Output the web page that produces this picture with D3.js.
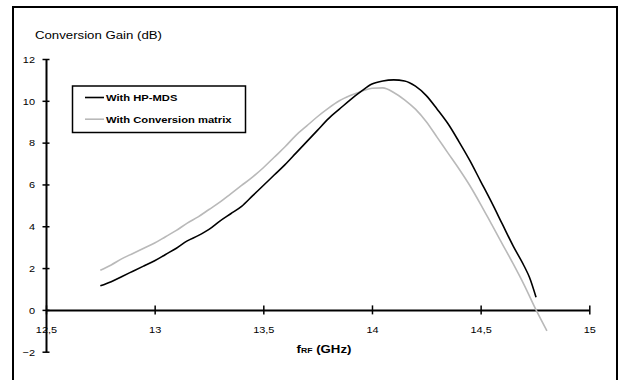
<!DOCTYPE html>
<html>
<head>
<meta charset="utf-8">
<script src="https://cdn.jsdelivr.net/npm/d3@7"></script>
<style>
  body { margin: 0; background: #fff; }
  svg text { font-family: "Liberation Sans", Arial, sans-serif; fill: #000; }
  .st { transform-box: fill-box; }
  .st-s { transform-origin: left center; }
  .st-e { transform-origin: right center; }
  .st-m { transform-origin: center center; }
</style>
</head>
<body>
<div id="chart-area"></div>
<script>
/*
*    conversion gain vs fRF
*/

// HP-MDS curve
var freqHP = [12.75, 12.8, 12.85, 12.9, 12.95, 13, 13.05, 13.1, 13.15, 13.2, 13.25, 13.3, 13.35, 13.4, 13.45,
    13.5, 13.55, 13.6, 13.65, 13.7, 13.75, 13.8, 13.85, 13.9, 13.95, 14, 14.05, 14.1, 14.15, 14.2,
    14.25, 14.3, 14.35, 14.4, 14.45, 14.5, 14.55, 14.6, 14.65, 14.7, 14.725, 14.755];
var gainHP = [1.15, 1.35, 1.6, 1.85, 2.1, 2.35, 2.65, 2.95, 3.3, 3.55, 3.85, 4.25, 4.6, 4.95, 5.45,
    5.95, 6.45, 6.95, 7.5, 8.05, 8.6, 9.15, 9.6, 10.05, 10.45, 10.8, 10.95, 11.0, 10.95, 10.7,
    10.25, 9.6, 8.9, 8.05, 7.15, 6.15, 5.15, 4.1, 3.05, 2.1, 1.55, 0.6];

// Conversion matrix curve
var freqCM = [12.75, 12.8, 12.85, 12.9, 12.95, 13, 13.05, 13.1, 13.15, 13.2, 13.25, 13.3, 13.35, 13.4, 13.45,
    13.5, 13.55, 13.6, 13.65, 13.7, 13.75, 13.8, 13.85, 13.9, 13.95, 14, 14.05, 14.1, 14.15, 14.2,
    14.25, 14.3, 14.35, 14.4, 14.45, 14.5, 14.55, 14.6, 14.65, 14.7, 14.755, 14.805];
var gainCM = [1.9, 2.15, 2.45, 2.7, 2.95, 3.2, 3.5, 3.8, 4.15, 4.45, 4.8, 5.15, 5.55, 5.95, 6.35,
    6.8, 7.3, 7.8, 8.35, 8.8, 9.25, 9.65, 10.0, 10.25, 10.45, 10.6, 10.62, 10.4, 10.05, 9.6,
    9.0, 8.25, 7.5, 6.75, 5.95, 5.05, 4.1, 3.15, 2.2, 1.2, 0.0, -1.0];

var xTicks = [12.5, 13, 13.5, 14, 14.5, 15];
var xTickLabels = ["12,5", "13", "13,5", "14", "14,5", "15"];
var yTicks = [-2, 0, 2, 4, 6, 8, 10, 12];

var seriesNames = ["With HP-MDS", "With Conversion matrix"];
var seriesColors = ["#000000", "#b9b9b9"];

var width = 621;
var height = 380;

var svg = d3.select("#chart-area").append("svg")
    .attr("width", width)
    .attr("height", height);

// outer frame (bottom edge runs off the picture)
svg.append("rect")
    .attr("x", 13)
    .attr("y", 7)
    .attr("width", 604)
    .attr("height", 420)
    .attr("fill", "none")
    .attr("stroke", "#000")
    .attr("stroke-width", 2);

var x = d3.scaleLinear()
    .domain([12.5, 15])
    .range([46, 589.3]);

var y = d3.scaleLinear()
    .domain([-2, 12])
    .range([351.7, 59]);

// x Axis
var xAxisCall = d3.axisBottom(x)
    .tickValues(xTicks)
    .tickSizeOuter(0)
    .tickFormat((d, i) => xTickLabels[i]);
var xAxis = svg.append("g")
    .attr("class", "x axis")
    .attr("transform", "translate(0, " + y(0) + ")")
    .call(xAxisCall);
xAxis.select(".domain").attr("stroke-width", 2);
xAxis.selectAll(".tick line")
    .attr("y1", -4.5)
    .attr("y2", 4.5)
    .attr("stroke-width", 1.5);
xAxis.selectAll(".tick text")
    .attr("y", 23)
    .attr("dy", 0)
    .attr("class", "st st-m")
    .style("transform", "scaleX(1.15)")
    .style("font-size", "9.5px");

// y Axis
var yAxisCall = d3.axisLeft(y)
    .tickValues(yTicks)
    .tickSizeOuter(0);
var yAxis = svg.append("g")
    .attr("class", "y axis")
    .attr("transform", "translate(" + x(12.5) + ", 0)")
    .call(yAxisCall);
yAxis.select(".domain").attr("stroke-width", 2);
yAxis.selectAll(".tick line")
    .attr("x1", -3.5)
    .attr("x2", 3.5)
    .attr("stroke-width", 1.5);
yAxis.selectAll(".tick text")
    .attr("x", -11)
    .attr("dy", "0.35em")
    .attr("class", "st st-e")
    .style("transform", "scaleX(1.15)")
    .style("font-size", "9.5px");
svg.selectAll(".axis").attr("font-family", null).attr("font-size", null);

// y Label
svg.append("text")
    .attr("x", 35)
    .attr("y", 39.5)
    .attr("class", "st st-s")
    .style("transform", "scaleX(1.15)")
    .style("font-size", "11.5px")
    .text("Conversion Gain (dB)");

// x Label
var xl = svg.append("text")
    .attr("x", 324)
    .attr("y", 353.5)
    .attr("text-anchor", "middle")
    .attr("font-weight", "bold")
    .attr("class", "st st-m")
    .style("transform", "scaleX(1.15)")
    .style("font-size", "11.5px");
xl.append("tspan").text("f");
xl.append("tspan").style("font-size", "7.5px").text("RF");
xl.append("tspan").text(" (GHz)");

// curves
var line = d3.line()
    .x((d) => x(d[0]))
    .y((d) => y(d[1]))
    .curve(d3.curveMonotoneX);

var series = [
    d3.zip(freqCM, gainCM),
    d3.zip(freqHP, gainHP)
];
var seriesCol = [seriesColors[1], seriesColors[0]];

svg.selectAll("path.curve")
    .data(series)
    .enter()
    .append("path")
        .attr("class", "curve")
        .attr("d", line)
        .attr("fill", "none")
        .attr("stroke", (d, i) => seriesCol[i])
        .attr("stroke-width", 1.6);

// legend
var legend = svg.append("g");
legend.append("rect")
    .attr("x", 72.5)
    .attr("y", 86)
    .attr("width", 173)
    .attr("height", 46.5)
    .attr("fill", "#fff")
    .attr("stroke", "#000")
    .attr("stroke-width", 1.5);

var rows = legend.selectAll("g.row")
    .data(seriesNames)
    .enter()
    .append("g")
        .attr("class", "row")
        .attr("transform", (d, i) => "translate(0, " + (97.5 + i * 21.7) + ")");
rows.append("line")
    .attr("x1", 85)
    .attr("x2", 104)
    .attr("stroke", (d, i) => seriesColors[i])
    .attr("stroke-width", 1.6);
rows.append("text")
    .attr("x", 106)
    .attr("y", 3.5)
    .attr("font-weight", "bold")
    .attr("class", "st st-s")
    .style("transform", "scaleX(1.18)")
    .style("font-size", "9.5px")
    .text((d) => d);
</script>
</body>
</html>
